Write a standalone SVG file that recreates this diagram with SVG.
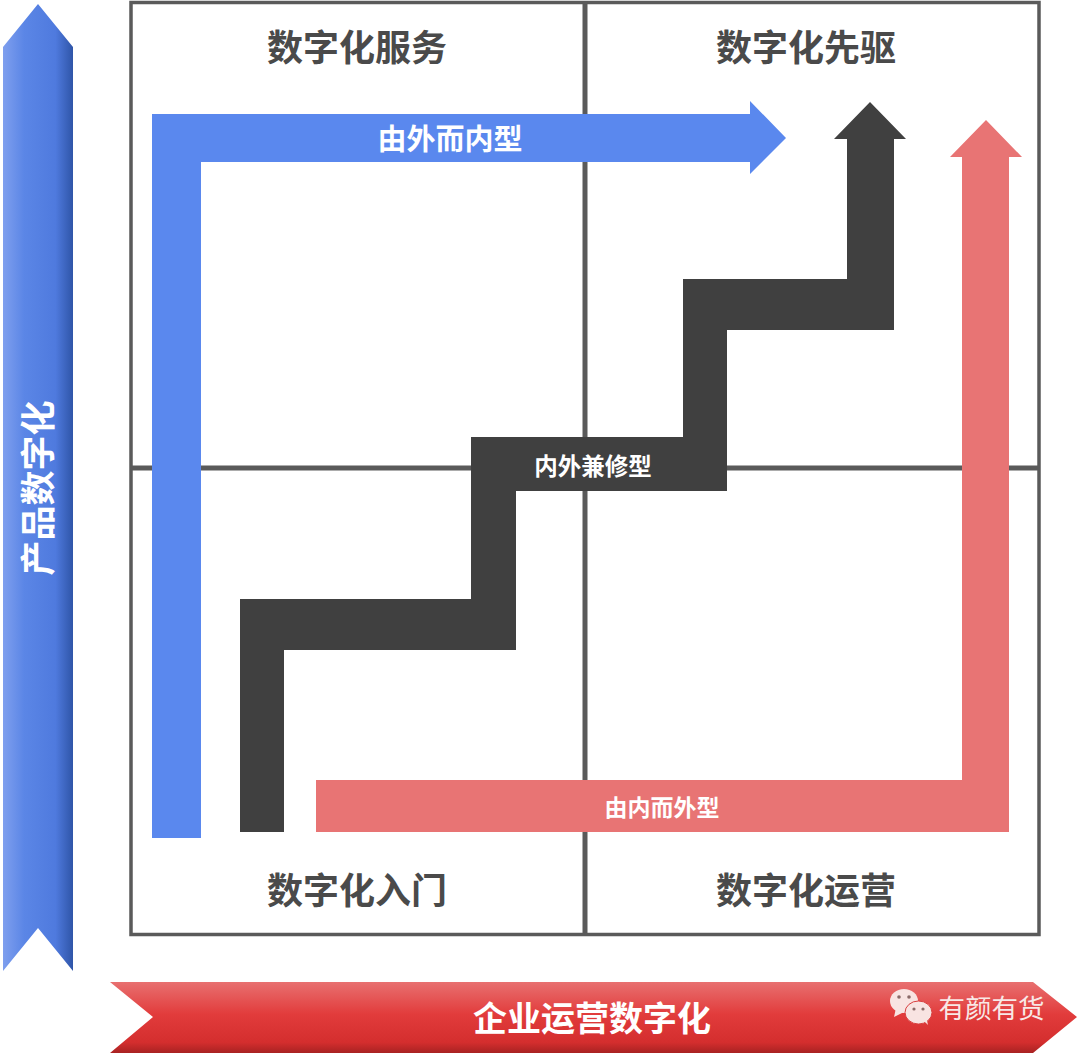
<svg xmlns="http://www.w3.org/2000/svg" width="1080" height="1056" viewBox="0 0 1080 1056">
<style>
text{font-family:"Noto Sans CJK SC","Noto Sans",sans-serif;text-anchor:middle}
.q{font-size:36px;font-weight:700;fill:#4a4a4a}
.w{font-weight:700;fill:#fff}
.grid{fill:none;stroke:#5a5a5a}
</style>
<defs>
<linearGradient id="bl" x1="0" x2="1" y1="0" y2="0">
<stop offset="0" stop-color="#7f9fee"/><stop offset="0.3" stop-color="#5b86e6"/><stop offset="0.75" stop-color="#4f7ade"/><stop offset="1" stop-color="#2f55a8"/>
</linearGradient>
<linearGradient id="rd" x1="0" x2="0" y1="0" y2="1">
<stop offset="0" stop-color="#e87070"/><stop offset="0.45" stop-color="#e23c3c"/><stop offset="0.85" stop-color="#d42e2e"/><stop offset="1" stop-color="#a82222"/>
</linearGradient>
</defs>
<rect width="1080" height="1056" fill="#fff"/>
<g id="grid">
<rect class="grid" stroke-width="3.5" x="131" y="2.5" width="908" height="932"/>
<path class="grid" stroke-width="5" d="M585 2.5V934M131 468H1039"/>
</g>
<g id="axis-y">
<polygon points="38,4 73,47 73,971 38,928 3,971 3,47" fill="url(#bl)"/>
<text class="w" font-size="35" transform="translate(39,488) rotate(-90)" y="12">产品数字化</text>
</g>
<g id="axis-x">
<polygon points="110,982 1033,982 1077,1017 1033,1053 110,1053 153,1017" fill="url(#rd)"/>
<text class="w" x="592" y="1031" font-size="34">企业运营数字化</text>
<g id="watermark">
<ellipse cx="904" cy="1001" rx="14" ry="12" fill="#f8e4e2"/>
<polygon points="896,1008 894,1017 904,1012" fill="#f8e4e2"/>
<ellipse cx="918.500" cy="1012.500" rx="13.500" ry="11.500" fill="#f8e4e2" stroke="#d94040" stroke-width="1"/>
<polygon points="924,1021 928,1025 926,1016" fill="#f8e4e2"/>
<circle cx="899" cy="997" r="1.800" fill="#8a6a68"/><circle cx="909" cy="997" r="1.800" fill="#8a6a68"/>
<circle cx="914" cy="1009" r="1.600" fill="#8a6a68"/><circle cx="923" cy="1009" r="1.600" fill="#8a6a68"/>
<text x="991.500" y="1018" font-size="26.500" font-weight="400" fill="#f8e8e6">有颜有货</text>
</g>
</g>
<g id="connectors">
<polygon id="outside-in" points="152,114 750,114 750,101 786,138 750,174 750,162 201,162 201,838 152,838" fill="#5a88ee"/>
<polygon id="both" points="240,832 240,599 471,599 471,437 683,437 683,279 847,279 847,139 834,139 870,102 906,139 894,139 894,330 727,330 727,491 516,491 516,650 284,650 284,832" fill="#404040"/>
<polygon id="inside-out" points="316,832 316,780 962,780 962,157 950,157 986,120 1022,157 1009,157 1009,832" fill="#e87474"/>
</g>
<g id="node-service"><text class="q" x="357" y="61">数字化服务</text></g>
<g id="node-pioneer"><text class="q" x="806" y="61">数字化先驱</text></g>
<g id="node-entry"><text class="q" x="357" y="904">数字化入门</text></g>
<g id="node-ops"><text class="q" x="806" y="904">数字化运营</text></g>
<g id="label-outside-in"><text class="w" x="450" y="150" font-size="29">由外而内型</text></g>
<g id="label-both"><text class="w" x="593" y="475" font-size="23.500">内外兼修型</text></g>
<g id="label-inside-out"><text class="w" x="662" y="816" font-size="23">由内而外型</text></g>
</svg>
